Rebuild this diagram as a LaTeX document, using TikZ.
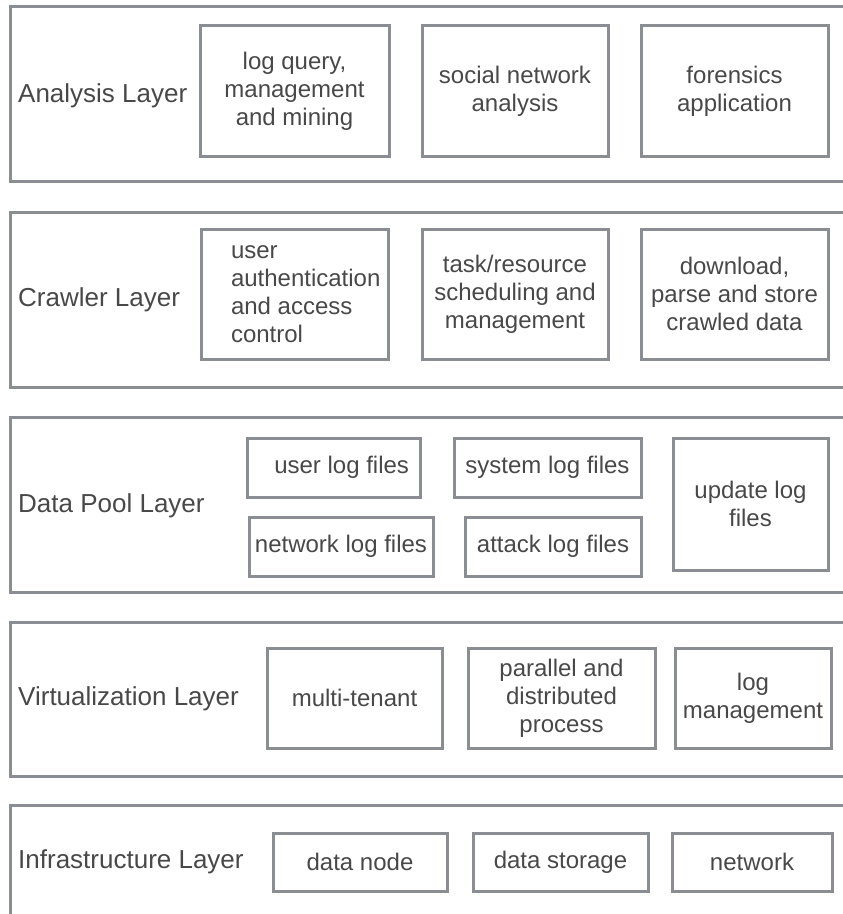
\documentclass[tikz,border=0pt]{standalone}
\usepackage{fontspec}
\setmainfont{Liberation Sans}
\usetikzlibrary{positioning}
\definecolor{framegray}{HTML}{8A8D91}
\definecolor{inkgray}{HTML}{484848}

\begin{document}
\begin{tikzpicture}[x=1pt,y=-1pt]
	\tikzstyle{layer}=[draw=framegray,line width=3pt,minimum width=870pt,inner sep=0pt]
	\tikzstyle{unit}=[draw=framegray,line width=3pt,inner sep=0pt,align=center,text=inkgray,font=\fontsize{24}{28}\selectfont]
	\tikzstyle{annot}=[anchor=west,inner sep=0pt,text=inkgray,font=\fontsize{26}{30}\selectfont]

	\useasboundingbox (0,0) rectangle (843,914);
	\clip (0,0) rectangle (843,914);

	% Draw the layer frames
	\foreach \name / \y / \h in {A/93.5/175, C/299.5/175, D/504.5/175, V/699/154, I/892.5/175}
	\node[layer, minimum height=\h pt] (L-\name) at (445,\y) {};

	% Layer names
	\node[annot] (N-A) at (18,96) {Analysis Layer};
	\node[annot] (N-C) at (18,300) {Crawler Layer};
	\node[annot] (N-D) at (18,506) {Data Pool Layer};
	\node[annot] (N-V) at (18,699) {Virtualization Layer};
	\node[annot] (N-I) at (18,862) {Infrastructure Layer};

	% Analysis layer
	\node[unit, minimum width=189pt, minimum height=131pt] (A-1) at (294.5,91) {log query,\\management\\and mining};
	\node[unit, minimum width=186pt, minimum height=131pt] (A-2) at (515,91) {social network\\analysis};
	\node[unit, minimum width=187pt, minimum height=131pt] (A-3) at (734.5,91) {forensics\\application};

	% Crawler layer
	\node[unit, align=flush left, text width=127pt, minimum width=187pt, minimum height=130pt] (C-1) at (294.5,294) {user\\authentication\\and access\\control};
	\node[unit, minimum width=186pt, minimum height=130pt] (C-2) at (515,294) {task/resource\\scheduling and\\management};
	\node[unit, minimum width=187pt, minimum height=130pt] (C-3) at (734.5,294) {download,\\parse and store\\crawled data};

	% Data pool layer
	\node[unit, align=flush right, text width=151pt, minimum width=173pt, minimum height=59pt] (D-1) at (333.5,467.5) {user log files};
	\node[unit, minimum width=187pt, minimum height=59pt] (D-2) at (547.5,467.5) {system log files};
	\node[unit, minimum width=184pt, minimum height=59pt] (D-3) at (341,546.5) {network log files};
	\node[unit, minimum width=176pt, minimum height=59pt] (D-4) at (553,546.5) {attack log files};
	\node[unit, minimum width=155pt, minimum height=132pt] (D-5) at (750.5,504) {update log\\files};

	% Virtualization layer
	\node[unit, minimum width=175pt, minimum height=100pt] (V-1) at (354.5,698) {multi-tenant};
	\node[unit, minimum width=187pt, minimum height=100pt] (V-2) at (561.5,698) {parallel and\\distributed\\process};
	\node[unit, minimum width=156pt, minimum height=100pt] (V-3) at (753,698) {log\\management};

	% Infrastructure layer
	\node[unit, minimum width=174pt, minimum height=58pt] (I-1) at (360,862) {data node};
	\node[unit, minimum width=175pt, minimum height=58pt] (I-2) at (560.5,862) {data storage};
	\node[unit, minimum width=160pt, minimum height=58pt] (I-3) at (752,862) {network};
\end{tikzpicture}
\end{document}
